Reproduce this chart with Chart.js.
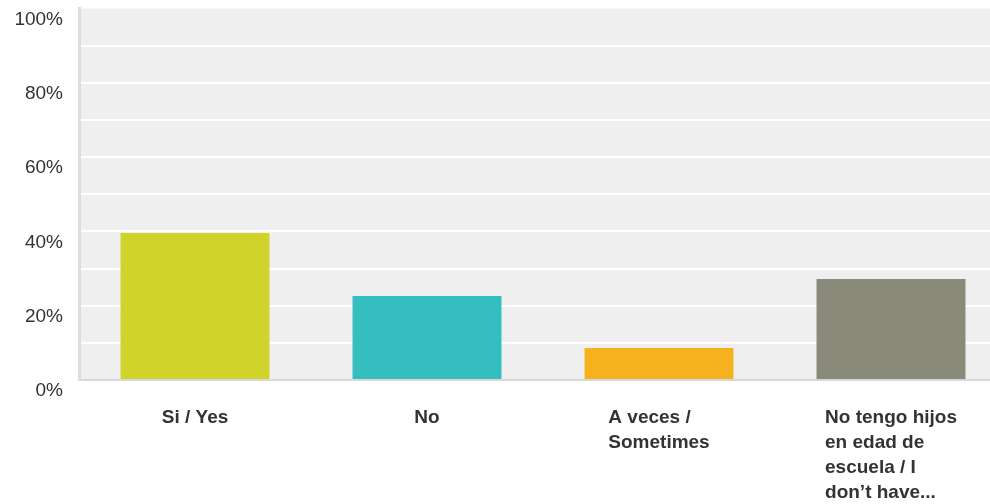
<!DOCTYPE html>
<html>
<head>
<meta charset="utf-8">
<script src="https://cdn.jsdelivr.net/npm/chart.js@4"></script>
<style>
html,body{margin:0;padding:0;background:#fff;overflow:hidden;}
#wrap{width:1010px;height:504px;position:relative;}
</style>
</head>
<body>
<div id="wrap"><canvas id="chart"></canvas></div>
<script>

// answers (label lines) and share of respondents, %
const categories = [
  ["Si / Yes"],
  ["No"],
  ["A veces /", "Sometimes"],
  ["No tengo hijos", "en edad de", "escuela / I", "don’t have..."]
];
const values = [39.6, 22.6, 8.6, 27.2];
const barColors = ["#d0d42a", "#34bec0", "#f6b11f", "#8a8a7a"];
const yTicks = [0, 20, 40, 60, 80, 100];


// grey plot background
const plotBg = {
  id: "plotBg",
  beforeDraw(chart) {
    const a = chart.chartArea, ctx = chart.ctx;
    ctx.save();
    ctx.fillStyle = "#efefef";
    ctx.fillRect(a.left, a.top, a.right - a.left, a.bottom - a.top);
    ctx.restore();
  }
};

// category labels, lines left aligned inside a centred block
const xLabels = {
  id: "xLabels",
  afterDraw(chart) {
    const ctx = chart.ctx, x = chart.scales.x;
    ctx.save();
    ctx.font = "bold 19px 'Liberation Sans', Arial, sans-serif";
    ctx.fillStyle = "#333";
    ctx.textBaseline = "alphabetic";
    ctx.textAlign = "left";
    categories.forEach((lines, i) => {
      const cx = x.getPixelForValue(i);
      const w = Math.max(...lines.map(l => ctx.measureText(l).width));
      lines.forEach((l, j) => {
        ctx.fillText(l, cx - w / 2, 423 + j * 25);
      });
    });
    ctx.restore();
  }
};


new Chart(document.getElementById("chart"), {
  type: "bar",
  data: {
    labels: categories.map(c => c.join(" ")),
    datasets: [{
      data: values,
      backgroundColor: barColors,
      barPercentage: 0.642,
      categoryPercentage: 1
    }]
  },
  options: {
    responsive: true,
    maintainAspectRatio: false,
    animation: false,
    layout: { padding: { top: 8.6, right: 3, left: 0, bottom: 0 } },
    plugins: { legend: { display: false }, tooltip: { enabled: false } },
    scales: {
      x: {
        grid: { display: false, drawTicks: false },
        border: { color: "#d8d8d8", width: 2 },
        ticks: { display: false },
        afterFit(s) { s.height = 124; s.paddingLeft = 0; s.paddingRight = 0; }
      },
      y: {
        min: 0,
        max: 100,
        afterFit(s) { s.width = 79; s.paddingTop = 0; s.paddingBottom = 0; },
        afterBuildTicks(s) {
          s.ticks = [];
          for (let v = 0; v <= 100; v += 10) s.ticks.push({ value: v });
        },
        grid: {
          drawTicks: false,
          lineWidth: 2,
          color: c => (c.tick && (c.tick.value === 0 || c.tick.value === 100)) ? "rgba(0,0,0,0)" : "#ffffff"
        },
        border: { color: "#dddddd", width: 3 },
        ticks: {
          padding: 16,
          labelOffset: 11,
          color: "#333",
          font: { family: "'Liberation Sans', Arial, sans-serif", size: 19 },
          callback: v => yTicks.includes(v) ? v + "%" : ""
        }
      }
    }
  },
  plugins: [plotBg, xLabels]
});
</script>
</body>
</html>
